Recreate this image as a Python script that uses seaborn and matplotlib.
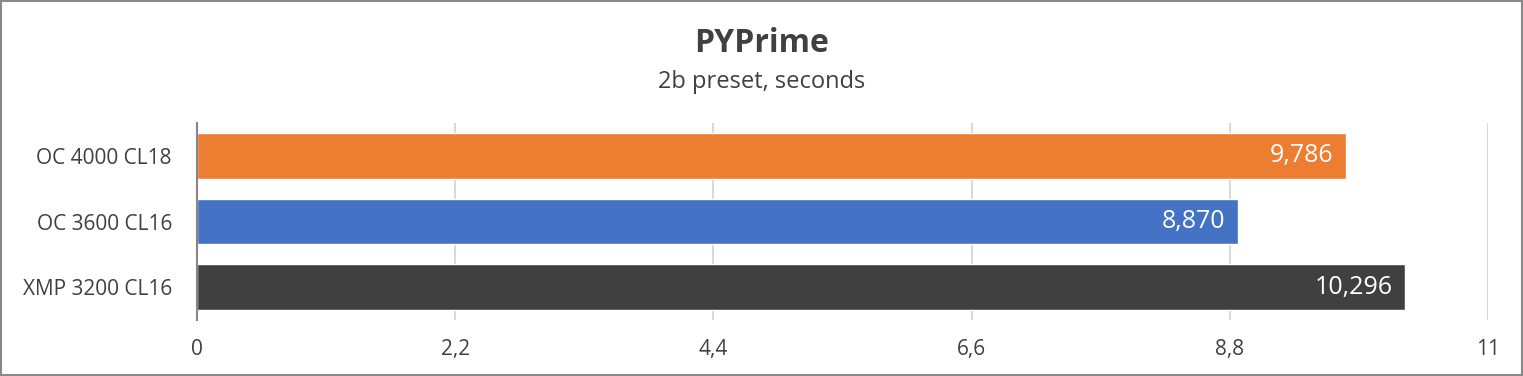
#! /usr/bin/env python
import matplotlib.pyplot as plt
import matplotlib.patches as mpatches
import pandas as pd
import seaborn as sns

configs = ['OC 4000 CL18', 'OC 3600 CL16', 'XMP 3200 CL16']
seconds = [9.786, 8.870, 10.296]
colors = ['#ED7D31', '#4472C4', '#404040']
xticks = [0, 2.2, 4.4, 6.6, 8.8, 11]
xtick_labels = ['0', '2,2', '4,4', '6,6', '8,8', '11']


def main(out_file='out.png'):
    df = pd.DataFrame({'config': configs, 'seconds': seconds})

    sns.set_style('white')
    plt.rcParams['font.family'] = ['Open Sans', 'DejaVu Sans']

    fig = plt.figure(figsize=(15.23, 3.76), dpi=100)
    ax = fig.add_axes([197 / 1523, 1 - 320 / 376, (1488 - 197) / 1523, 197 / 376])

    sns.barplot(data=df, x='seconds', y='config', hue='config', palette=colors,
                orient='h', width=0.7, legend=False, ax=ax, saturation=1)

    ax.set_xlim(0, 11)
    ax.set_ylim(2.5, -0.5)
    ax.set_xticks(xticks)
    ax.set_xticklabels(xtick_labels)
    ax.set_xlabel('')
    ax.set_ylabel('')
    ax.tick_params(axis='both', length=0, labelsize=15, colors='#404040')
    ax.tick_params(axis='y', pad=18)
    ax.tick_params(axis='x', pad=14)
    ax.grid(axis='x', color='#d9d9d9', linewidth=1.5)
    ax.set_axisbelow(True)
    for side in ['top', 'right', 'bottom']:
        ax.spines[side].set_visible(False)
    ax.spines['left'].set_color('#868686')
    ax.spines['left'].set_linewidth(1.5)

    for container in ax.containers:
        ax.bar_label(container, labels=[f'{v:.3f}'.replace('.', ',') for v in container.datavalues],
                     label_type='edge', padding=-9, color='white', fontsize=18)
    for t in ax.texts:
        t.set_ha('right')

    fig.text(0.5, 1 - 44 / 376, 'PYPrime', ha='center', va='center',
             fontsize=23, fontweight='bold', color='#404040')
    fig.text(0.5, 1 - 82 / 376, '2b preset, seconds', ha='center', va='center',
             fontsize=17, color='#404040')

    fig.patches.append(mpatches.Rectangle((0.0007, 0.002), 0.9986, 0.996, transform=fig.transFigure,
                                          fill=False, edgecolor='#898989', linewidth=1.5))
    fig.savefig(out_file, dpi=100)


if __name__ == '__main__':
    main()
